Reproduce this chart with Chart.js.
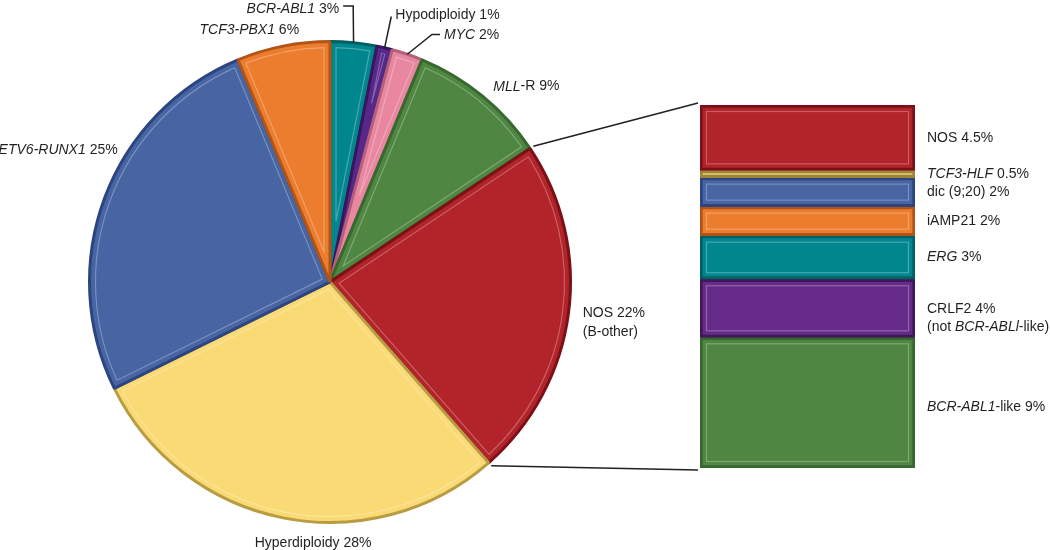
<!DOCTYPE html>
<html>
<head>
<meta charset="utf-8">
<script src="https://cdn.jsdelivr.net/npm/chart.js@4.4.1/dist/chart.umd.min.js"></script>
<style>
  body { margin: 0; background: #fff; }
  #wrap { position: relative; width: 1050px; height: 550px; }
  #wrap canvas { position: absolute; left: 0; top: 0; }
</style>
</head>
<body>
<div id="wrap">
  <canvas id="pieChart" width="1050" height="550"></canvas>
  <canvas id="nosChart" width="1050" height="550"></canvas>
</div>
<script>
// pie slices, clockwise from 12 o'clock
const pieLabels = ['BCR-ABL1', 'Hypodiploidy', 'MYC', 'MLL-R', 'NOS (B-other)', 'Hyperdiploidy', 'ETV6-RUNX1', 'TCF3-PBX1'];
const pieValues = [3, 1, 2, 9, 22, 28, 25, 6];
const pieColors = ['#00878e', '#57278a', '#e8879f', '#4e8642', '#b2232a', '#fada75', '#4764a3', '#ec7d2e'];
const pieBorders = ['#005f63', '#3a145f', '#b5607a', '#37682e', '#7a1116', '#b89c44', '#2c4480', '#b25416'];

// breakdown of NOS (B-other), top to bottom
const nosLabels = ['NOS', 'TCF3-HLF', 'dic (9;20)', 'iAMP21', 'ERG', 'CRLF2 (not BCR-ABLl-like)', 'BCR-ABL1-like'];
const nosValues = [4.5, 0.5, 2, 2, 3, 4, 9];
const nosColors = ['#b2232a', '#d6bc62', '#4764a3', '#ec7d2e', '#00878e', '#662b89', '#4e8642'];
const nosBorders = ['#7a1116', '#9e843a', '#2c4480', '#b25416', '#005f63', '#41175c', '#37682e'];

// label text: [text, italic] pieces, percent is added from the values
const pieText = [
  [['BCR-ABL1', true]],
  [['Hypodiploidy', false]],
  [['MYC', true]],
  [['MLL', true], ['-R', false]],
  [['NOS', false]],
  [['Hyperdiploidy', false]],
  [['ETV6-RUNX1', true]],
  [['TCF3-PBX1', true]]
];
const pieSecondLine = { 4: '(B-other)' };
// where each label sits: angle (deg clockwise from top), radius factor, alignment, leader
const pieLabelPos = [
  { a: 4.8, rf: 1.152, align: 'right', leader: true, hx: -10, dy: 2 },
  { a: 13, rf: 1.133, align: 'left', leader: true, hx: 0, dy: -2 },
  { a: 22.4, rf: 1.113, align: 'left', leader: true, hx: 8 },
  { a: 39.9, rf: 1.059, align: 'left' },
  { a: 99, rf: 1.064, align: 'left' },
  { a: 183.7, rf: 1.09, align: 'center' },
  { a: 301.9, rf: 1.04, align: 'right' },
  { a: 353, rf: 1.054, align: 'right' }
];

const nosText = [
  [['NOS', false]],
  [['TCF3-HLF', true]],
  [['dic (9;20)', false]],
  [['iAMP21', false]],
  [['ERG', true]],
  [['CRLF2', false]],
  [['BCR-ABL1', true], ['-like', false]]
];
const nosSecondLine = { 5: [['(not ', false], ['BCR-ABLl', true], ['-like)', false]] };

const FONT = '"Liberation Sans", Arial, sans-serif';
const SIZE = 14;

function drawRich(ctx, parts, x, y, align) {
  let total = 0;
  const widths = parts.map(p => {
    ctx.font = (p[1] ? 'italic ' : '') + SIZE + 'px ' + FONT;
    const w = ctx.measureText(p[0]).width;
    total += w;
    return w;
  });
  let cx = align === 'right' ? x - total : align === 'center' ? x - total / 2 : x;
  ctx.textAlign = 'left';
  ctx.textBaseline = 'middle';
  ctx.fillStyle = '#231f20';
  parts.forEach((p, i) => {
    ctx.font = (p[1] ? 'italic ' : '') + SIZE + 'px ' + FONT;
    ctx.fillText(p[0], cx, y);
    cx += widths[i];
  });
}

function polar(el, deg, R) {
  const t = (deg - 90) * Math.PI / 180;
  return { x: el.x + R * Math.cos(t), y: el.y + R * Math.sin(t) };
}

const pieDecor = {
  id: 'pieDecor',
  afterDatasetsDraw(chart) {
    const ctx = chart.ctx;
    const arcs = chart.getDatasetMeta(0).data;
    ctx.save();
    // light inner outline on each slice
    arcs.forEach(el => {
      const d = 6, r = el.outerRadius - d;
      const half = (el.endAngle - el.startAngle) / 2;
      const m = el.startAngle + half;
      const vd = Math.min(d / Math.sin(half), r * 0.9);
      const dA = d / r;
      if (el.endAngle - el.startAngle - 2 * dA < 0.004) return;
      ctx.beginPath();
      ctx.moveTo(el.x + vd * Math.cos(m), el.y + vd * Math.sin(m));
      ctx.arc(el.x, el.y, r, el.startAngle + dA, el.endAngle - dA);
      ctx.closePath();
      ctx.strokeStyle = 'rgba(255,255,255,0.28)';
      ctx.lineWidth = 1.2;
      ctx.stroke();
    });
    // labels
    arcs.forEach((el, i) => {
      const pos = pieLabelPos[i];
      const parts = pieText[i].concat([[' ' + pieValues[i] + '%', false]]);
      if (pos.leader) {
        const mid = ((el.startAngle + el.endAngle) / 2) * 180 / Math.PI + 90;
        const edge = polar(el, mid, el.outerRadius);
        const elbow = polar(el, pos.a, el.outerRadius * pos.rf);
        const endX = elbow.x + pos.hx;
        ctx.beginPath();
        ctx.moveTo(edge.x, edge.y);
        ctx.lineTo(elbow.x, elbow.y);
        ctx.lineTo(endX, elbow.y);
        ctx.strokeStyle = '#231f20';
        ctx.lineWidth = 1.5;
        ctx.stroke();
        const tx = pos.align === 'right' ? endX - 4 : endX + 4;
        drawRich(ctx, parts, tx, elbow.y + (pos.dy || 0) + 1, pos.align);
      } else {
        const p = polar(el, pos.a, el.outerRadius * pos.rf);
        if (pieSecondLine[i]) {
          drawRich(ctx, parts, p.x, p.y - 9, pos.align);
          drawRich(ctx, [[pieSecondLine[i], false]], p.x, p.y + 10, pos.align);
        } else {
          drawRich(ctx, parts, p.x, p.y, pos.align);
        }
      }
    });
    ctx.restore();
  }
};

const pieChart = new Chart(document.getElementById('pieChart'), {
  type: 'pie',
  data: {
    labels: pieLabels,
    datasets: [{
      data: pieValues,
      backgroundColor: pieColors,
      borderColor: pieBorders,
      borderWidth: 3
    }]
  },
  options: {
    responsive: false,
    animation: false,
    layout: { padding: { left: 88, right: 478, top: 40, bottom: 26 } },
    plugins: { legend: { display: false }, tooltip: { enabled: false } }
  },
  plugins: [pieDecor]
});

const nosDecor = {
  id: 'nosDecor',
  beforeDatasetsDraw(chart) {
    const ctx = chart.ctx;
    const arc = pieChart.getDatasetMeta(0).data[4];
    const first = chart.getDatasetMeta(0).data[0];
    const last = chart.getDatasetMeta(nosValues.length - 1).data[0];
    const left = first.x - first.width / 2;
    const top = Math.min(first.y, first.base);
    const bottom = Math.max(last.y, last.base);
    const R = arc.outerRadius + 4;
    ctx.save();
    ctx.strokeStyle = '#231f20';
    ctx.lineWidth = 1.5;
    ctx.beginPath();
    ctx.moveTo(arc.x + R * Math.cos(arc.startAngle), arc.y + R * Math.sin(arc.startAngle));
    ctx.lineTo(left - 2, top - 2);
    ctx.moveTo(arc.x + R * Math.cos(arc.endAngle), arc.y + R * Math.sin(arc.endAngle));
    ctx.lineTo(left - 2, bottom + 2);
    ctx.stroke();
    ctx.restore();
  },
  afterDatasetsDraw(chart) {
    const ctx = chart.ctx;
    ctx.save();
    nosValues.forEach((v, i) => {
      const el = chart.getDatasetMeta(i).data[0];
      const l = el.x - el.width / 2, r = el.x + el.width / 2;
      const t = Math.min(el.y, el.base), b = Math.max(el.y, el.base);
      if (b - t > 14) {
        ctx.strokeStyle = 'rgba(255,255,255,0.28)';
        ctx.lineWidth = 1.2;
        ctx.strokeRect(l + 6.5, t + 6.5, r - l - 13, b - t - 13);
      }
      const cy = (t + b) / 2;
      const parts = nosText[i].concat([[' ' + v + '%', false]]);
      if (nosSecondLine[i]) {
        drawRich(ctx, parts, r + 12, cy + 1, 'left');
        drawRich(ctx, nosSecondLine[i], r + 12, cy + 19, 'left');
      } else {
        drawRich(ctx, parts, r + 12, cy + (i === 6 ? 4 : 0), 'left');
      }
    });
    ctx.restore();
  }
};

new Chart(document.getElementById('nosChart'), {
  type: 'bar',
  data: {
    labels: ['NOS (B-other)'],
    datasets: nosLabels.map((lab, i) => ({
      label: lab,
      data: [nosValues[i]],
      backgroundColor: nosColors[i],
      borderColor: nosBorders[i],
      borderWidth: 3,
      borderSkipped: false,
      barPercentage: 1,
      categoryPercentage: 1
    }))
  },
  options: {
    responsive: false,
    animation: false,
    layout: { padding: { left: 700, right: 135, top: 105, bottom: 82 } },
    scales: {
      x: { stacked: true, display: false },
      y: { stacked: true, display: false, reverse: true, min: 0, max: nosValues.reduce((a, b) => a + b, 0) }
    },
    plugins: { legend: { display: false }, tooltip: { enabled: false } }
  },
  plugins: [nosDecor]
});
</script>
</body>
</html>
